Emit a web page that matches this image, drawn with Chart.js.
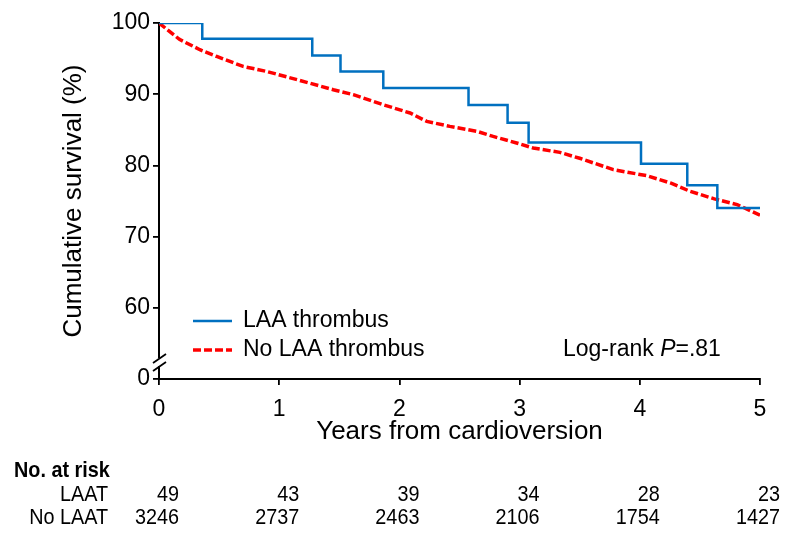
<!DOCTYPE html>
<html>
<head>
<meta charset="utf-8">
<script src="https://cdn.jsdelivr.net/npm/chart.js@4"></script>
<style>
  body { margin: 0; background: #fff; }
  #wrap { width: 800px; height: 542px; position: relative; }
</style>
</head>
<body>
<div id="wrap"><canvas id="km"></canvas></div>
<script>
// years of follow-up, survival in %
const LAAT_YEARS = [0, 0.36, 1.275, 1.51, 1.866, 2.575, 2.9, 3.075, 4.01, 4.395, 4.645, 5.0];
const LAAT_SURV = [100, 97.8, 95.45, 93.2, 90.87, 88.5, 86.0, 83.2, 80.24, 77.2, 74.0, 74.0];

const NO_LAAT_YEARS = [0, 0.17, 0.34, 0.48, 0.7, 0.895, 1.17, 1.45, 1.617, 1.866, 2.089, 2.228, 2.42,
  2.645, 2.78, 2.975, 3.113, 3.335, 3.5, 3.78, 4.06, 4.26, 4.42, 4.62, 4.81, 5.0];
const NO_LAAT_SURV = [100, 97.7, 96.25, 95.3, 93.9, 93.2, 91.94, 90.63, 89.93, 88.52, 87.36, 86.18, 85.48,
  84.78, 84.07, 83.15, 82.44, 81.83, 81.0, 79.4, 78.55, 77.5, 76.35, 75.3, 74.5, 73.0];

const X_TICKS = [0, 1, 2, 3, 4, 5];
const Y_TICKS = [50, 60, 70, 80, 90, 100];
const Y_TICK_LABELS = ["0", "60", "70", "80", "90", "100"];

const RISK_LAAT = [49, 43, 39, 34, 28, 23];
const RISK_NO_LAAT = [3246, 2737, 2463, 2106, 1754, 1427];

const FONT = "'Liberation Sans', Arial, sans-serif";
const BLUE = "#0070C0";
const RED = "#FF0000";


function toPoints(xs, ys) {
  return xs.map((x, i) => ({ x: x, y: ys[i] }));
}


// axis titles, legend, p-value, axis break and the risk table
const extras = {
  id: "extras",
  afterDraw(chart) {
    const ctx = chart.ctx;
    const xs = chart.scales.x;
    const area = chart.chartArea;
    ctx.save();

    // y axis break
    ctx.fillStyle = "#fff";
    ctx.fillRect(area.left - 3, 358, 6, 8);
    ctx.strokeStyle = "#000";
    ctx.lineWidth = 1.8;
    ctx.beginPath();
    ctx.moveTo(area.left - 6, 363);
    ctx.lineTo(area.left + 7, 354);
    ctx.moveTo(area.left - 6, 371);
    ctx.lineTo(area.left + 7, 362);
    ctx.stroke();
    ctx.fillStyle = "#000";

    // axis titles
    ctx.font = "26px " + FONT;
    ctx.textAlign = "center";
    ctx.textBaseline = "alphabetic";
    ctx.fillText("Years from cardioversion", (area.left + area.right) / 2, 439);
    ctx.save();
    ctx.translate(81, 201);
    ctx.rotate(-Math.PI / 2);
    ctx.fillText("Cumulative survival (%)", 0, 0);
    ctx.restore();

    // legend
    ctx.lineWidth = 2.5;
    ctx.strokeStyle = BLUE;
    ctx.beginPath();
    ctx.moveTo(193, 321);
    ctx.lineTo(232, 321);
    ctx.stroke();
    ctx.lineWidth = 3.5;
    ctx.strokeStyle = RED;
    ctx.setLineDash([8, 3]);
    ctx.beginPath();
    ctx.moveTo(193, 350);
    ctx.lineTo(232, 350);
    ctx.stroke();
    ctx.setLineDash([]);
    ctx.font = "23px " + FONT;
    ctx.textAlign = "left";
    ctx.textBaseline = "middle";
    ctx.fillText("LAA thrombus", 243, 321);
    ctx.fillText("No LAA thrombus", 243, 350);

    // log-rank
    let px = 563;
    ctx.fillText("Log-rank ", px, 350);
    px += ctx.measureText("Log-rank ").width;
    ctx.font = "italic 23px " + FONT;
    ctx.fillText("P", px, 350);
    px += ctx.measureText("P").width;
    ctx.font = "23px " + FONT;
    ctx.fillText("=.81", px, 350);

    // number at risk table (narrow text)
    const narrow = (txt, x, y, align, bold) => {
      ctx.save();
      ctx.translate(x, y);
      ctx.scale(0.9, 1);
      ctx.font = (bold ? "bold " : "") + "22px " + FONT;
      ctx.textAlign = align;
      ctx.textBaseline = "middle";
      ctx.fillText(txt, 0, 0);
      ctx.restore();
    };
    narrow("No. at risk", 14, 471, "left", true);
    narrow("LAAT", 108, 495, "right", false);
    narrow("No LAAT", 108, 518, "right", false);
    X_TICKS.forEach((t, i) => {
      const x = xs.getPixelForValue(t) + 20;
      narrow(String(RISK_LAAT[i]), x, 495, "right", false);
      narrow(String(RISK_NO_LAAT[i]), x, 518, "right", false);
    });

    ctx.restore();
  },
};


function drawChart() {
  const ctx = document.getElementById("km");
  new Chart(ctx, {
    type: "line",
    data: {
      datasets: [
        {
          label: "LAA thrombus",
          data: toPoints(LAAT_YEARS, LAAT_SURV),
          borderColor: BLUE,
          borderWidth: 2.5,
          stepped: true,
          pointRadius: 0,
          fill: false,
        },
        {
          label: "No LAA thrombus",
          data: toPoints(NO_LAAT_YEARS, NO_LAAT_SURV),
          borderColor: RED,
          borderWidth: 3.5,
          borderDash: [8, 3],
          tension: 0,
          pointRadius: 0,
          fill: false,
        },
      ],
    },
    options: {
      responsive: true,
      maintainAspectRatio: false,
      animation: false,
      layout: {
        padding: { left: 0, right: 40, top: 23, bottom: 0 },
      },
      plugins: {
        legend: { display: false },
        tooltip: { enabled: false },
      },
      scales: {
        x: {
          type: "linear",
          min: 0,
          max: 5,
          afterFit: (scale) => { scale.height = 163; },
          afterBuildTicks: (scale) => { scale.ticks = X_TICKS.map((v) => ({ value: v })); },
          grid: {
            drawOnChartArea: false,
            drawTicks: true,
            tickLength: 6,
            color: "#000",
            lineWidth: 1.8,
          },
          border: { display: true, color: "#000", width: 2 },
          ticks: {
            color: "#000",
            padding: 11,
            font: { family: FONT, size: 23 },
          },
        },
        y: {
          type: "linear",
          min: 50,
          max: 100,
          afterFit: (scale) => { scale.width = 159; },
          afterBuildTicks: (scale) => { scale.ticks = Y_TICKS.map((v) => ({ value: v })); },
          grid: {
            drawOnChartArea: false,
            drawTicks: true,
            tickLength: 6,
            color: "#000",
            lineWidth: 1.8,
          },
          border: { display: true, color: "#000", width: 2 },
          ticks: {
            color: "#000",
            padding: 3,
            font: { family: FONT, size: 23 },
            callback: (v) => Y_TICK_LABELS[Y_TICKS.indexOf(v)],
          },
        },
      },
    },
    plugins: [extras],
  });
}

drawChart();
</script>
</body>
</html>
